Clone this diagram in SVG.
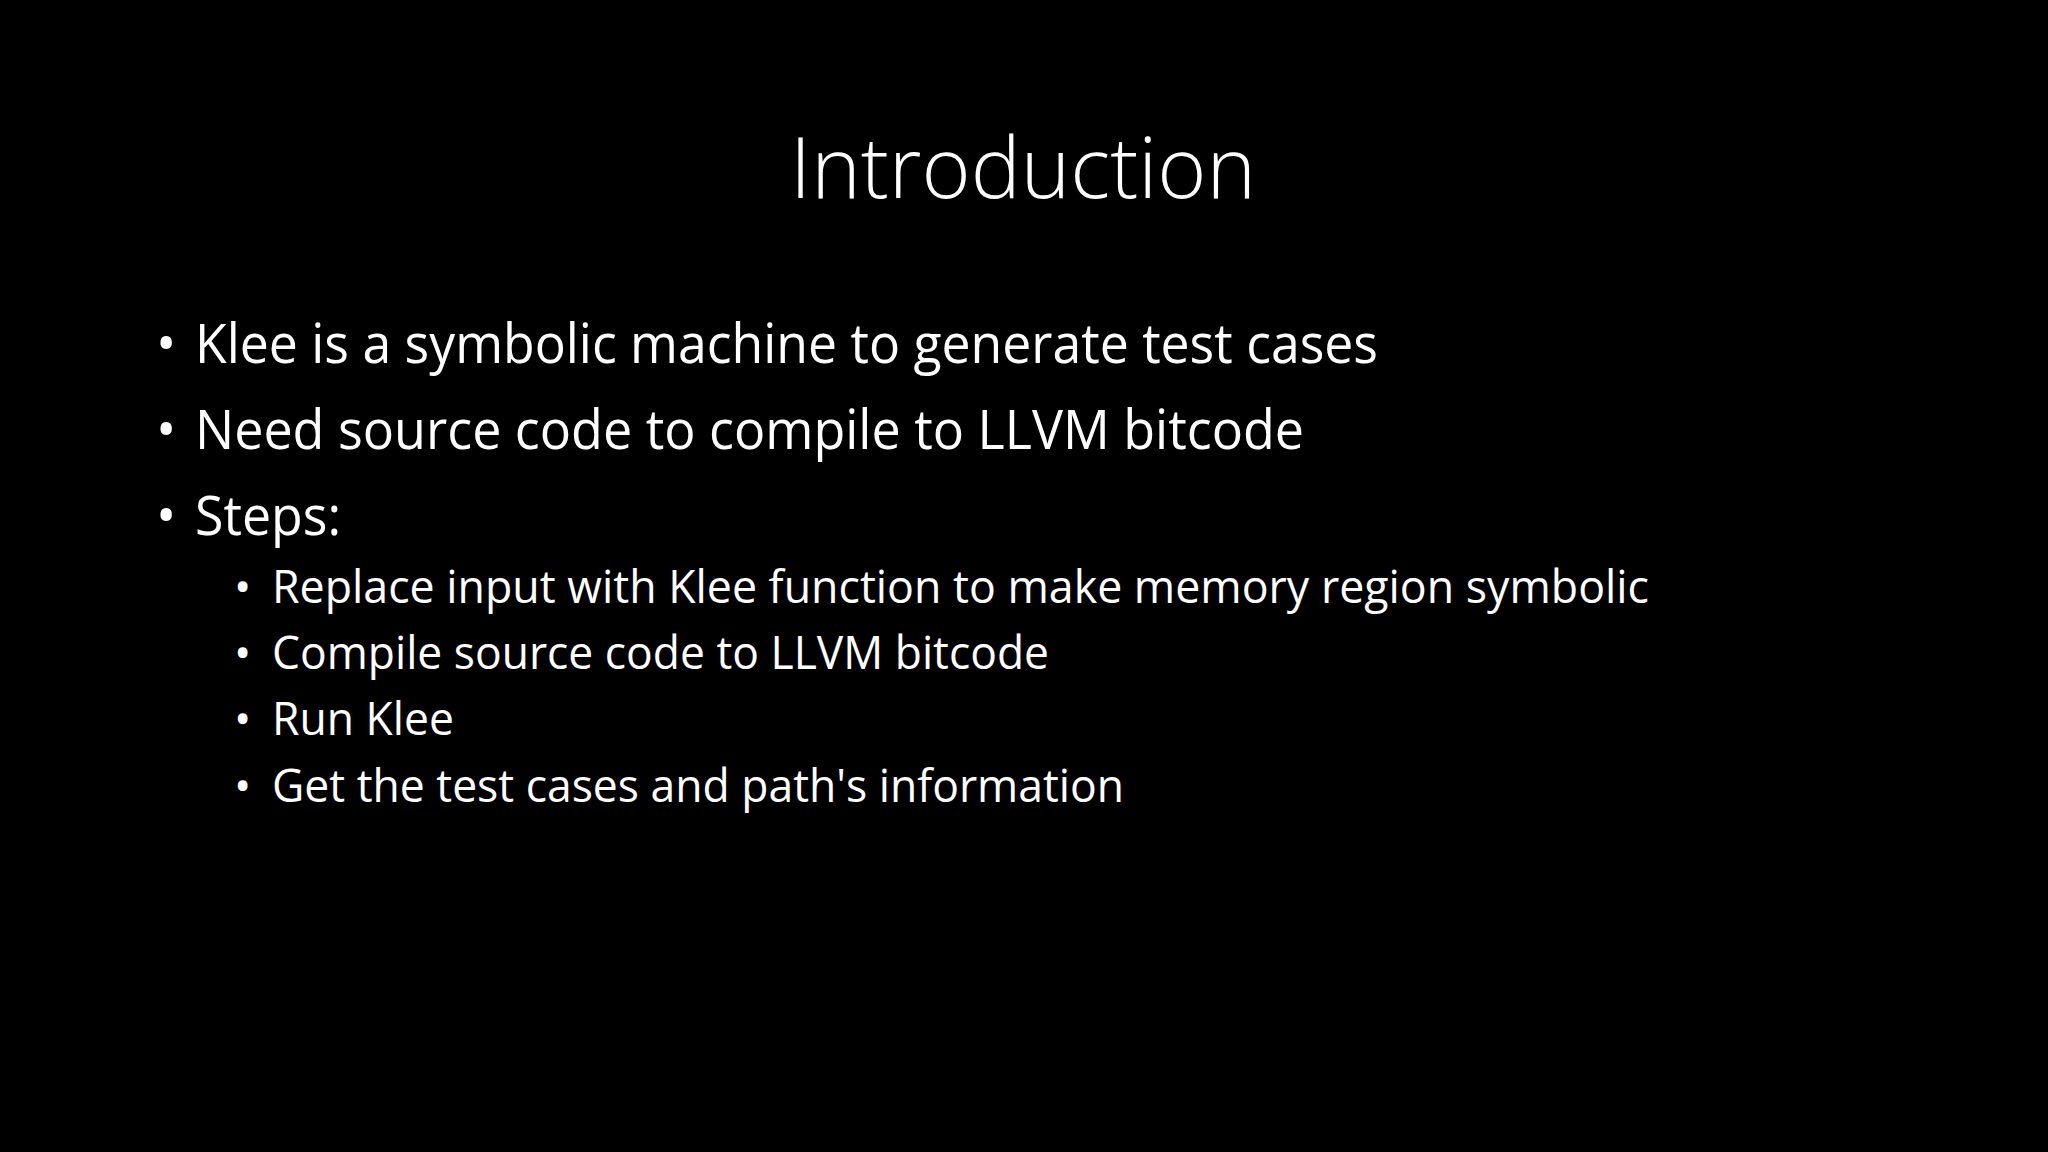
<svg xmlns="http://www.w3.org/2000/svg" width="2048" height="1152" viewBox="0 0 2048 1152">
<style>
text{font-family:"Open Sans","Liberation Sans",sans-serif;fill:#fff}
.t{font-size:84px;font-weight:300}
.l1{font-size:54px}
.l2{font-size:46px}
</style>
<rect width="2048" height="1152" fill="#000"/>
<g id="title"><text class="t" x="1023" y="198" text-anchor="middle" textLength="466" lengthAdjust="spacingAndGlyphs">Introduction</text></g>
<g id="level1">
<text class="l1" x="156" y="363">•</text>
<text class="l1" x="195" y="363" textLength="1183" lengthAdjust="spacingAndGlyphs">Klee is a symbolic machine to generate test cases</text>
<text class="l1" x="156" y="449">•</text>
<text class="l1" x="195" y="449" textLength="1109" lengthAdjust="spacingAndGlyphs">Need source code to compile to LLVM bitcode</text>
<text class="l1" x="156" y="535">•</text>
<text class="l1" x="195" y="535" textLength="146" lengthAdjust="spacingAndGlyphs">Steps:</text>
</g>
<g id="level2">
<text class="l2" x="234" y="603">•</text>
<text class="l2" x="272" y="603" textLength="1377" lengthAdjust="spacingAndGlyphs">Replace input with Klee function to make memory region symbolic</text>
<text class="l2" x="234" y="669">•</text>
<text class="l2" x="272" y="669" textLength="777" lengthAdjust="spacingAndGlyphs">Compile source code to LLVM bitcode</text>
<text class="l2" x="234" y="735">•</text>
<text class="l2" x="272" y="735" textLength="182" lengthAdjust="spacingAndGlyphs">Run Klee</text>
<text class="l2" x="234" y="802">•</text>
<text class="l2" x="272" y="802" textLength="852" lengthAdjust="spacingAndGlyphs">Get the test cases and path's information</text>
</g>
</svg>
